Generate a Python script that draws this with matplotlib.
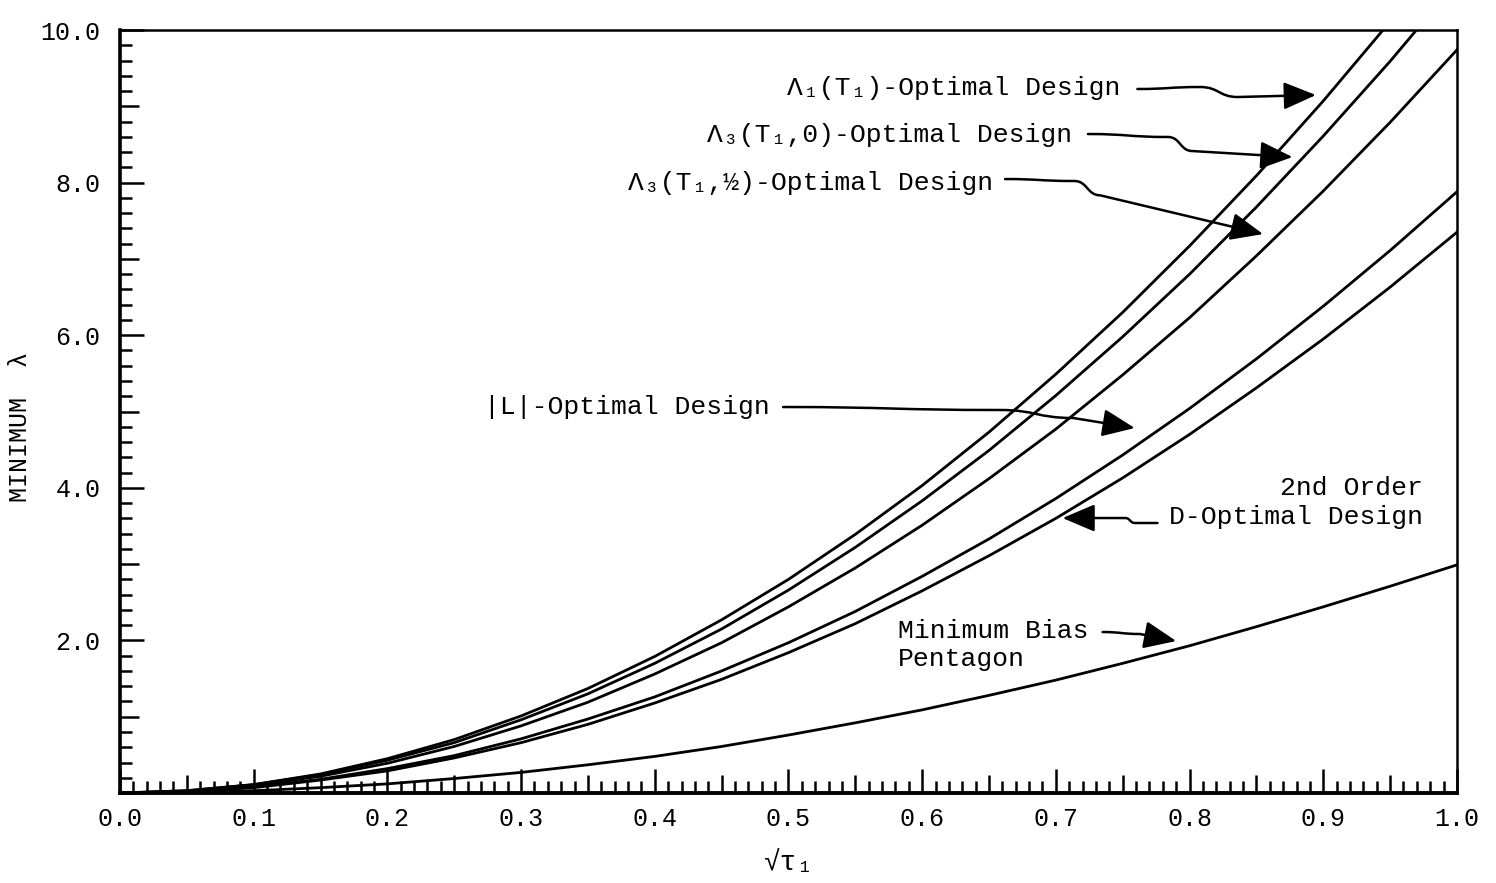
import matplotlib
matplotlib.use('Agg')
import matplotlib.pyplot as plt
from matplotlib.path import Path
from matplotlib.patches import FancyArrowPatch
from matplotlib.ticker import MultipleLocator, FixedLocator

plt.rcParams['font.family'] = ['Liberation Mono', 'DejaVu Sans Mono']

# values (sqrt(tau_1) vs minimum lambda)
sqrt_t1 = [0.0, 0.05, 0.1, 0.15, 0.2, 0.25, 0.3, 0.35, 0.4, 0.45, 0.5,
           0.55, 0.6, 0.65, 0.7, 0.75, 0.8, 0.85, 0.9, 0.95, 1.0]
lam1_opt = [0, 0.03, 0.11, 0.25, 0.45, 0.70, 1.01, 1.37, 1.79, 2.27, 2.80,
            3.39, 4.03, 4.73, 5.49, 6.30, 7.17, 8.09, 9.07, 10.11, 11.2]
lam3_0_opt = [0, 0.03, 0.11, 0.24, 0.43, 0.66, 0.96, 1.30, 1.70, 2.15, 2.66,
              3.22, 3.83, 4.49, 5.21, 5.98, 6.80, 7.68, 8.61, 9.59, 10.63]
lam3_half_opt = [0, 0.02, 0.10, 0.22, 0.39, 0.61, 0.88, 1.19, 1.56, 1.97, 2.44,
                 2.95, 3.51, 4.12, 4.77, 5.48, 6.23, 7.04, 7.89, 8.79, 9.74]
l_opt = [0, 0.02, 0.08, 0.18, 0.32, 0.49, 0.71, 0.97, 1.26, 1.60, 1.97,
         2.38, 2.84, 3.33, 3.86, 4.43, 5.04, 5.69, 6.38, 7.11, 7.88]
d_opt = [0, 0.02, 0.07, 0.17, 0.29, 0.46, 0.66, 0.90, 1.18, 1.49, 1.84,
         2.22, 2.65, 3.11, 3.60, 4.13, 4.70, 5.31, 5.95, 6.63, 7.35]
min_bias = [0, 0.01, 0.03, 0.07, 0.12, 0.19, 0.27, 0.37, 0.48, 0.61, 0.76,
            0.92, 1.09, 1.28, 1.48, 1.70, 1.93, 2.18, 2.44, 2.71, 2.99]

x_ticks = [0.0, 0.1, 0.2, 0.3, 0.4, 0.5, 0.6, 0.7, 0.8, 0.9, 1.0]
y_ticks = [2.0, 4.0, 6.0, 8.0, 10.0]

fig = plt.figure(figsize=(14.96, 8.83), dpi=100)
ax = fig.add_axes([0.0802, 0.1019, 0.8937, 0.8641])

for ys in [lam1_opt, lam3_0_opt, lam3_half_opt, l_opt, d_opt, min_bias]:
    ax.plot(sqrt_t1, ys, color='black', lw=2.0, solid_joinstyle='round')

ax.set_xlim(0, 1)
ax.set_ylim(0, 10)

# spines
ax.spines['left'].set_linewidth(2.6)
ax.spines['bottom'].set_linewidth(2.8)
ax.spines['top'].set_linewidth(1.8)
ax.spines['right'].set_linewidth(1.8)

# ticks, pointing inward
ax.xaxis.set_major_locator(FixedLocator(x_ticks))
ax.xaxis.set_minor_locator(MultipleLocator(0.01))
ax.yaxis.set_major_locator(FixedLocator(y_ticks))
ax.yaxis.set_minor_locator(MultipleLocator(0.2))
ax.set_xticklabels(['%.1f' % v for v in x_ticks])
ax.set_yticklabels(['%.1f' % v for v in y_ticks])
ax.tick_params(which='both', direction='in', top=False, right=False, width=1.8)
ax.tick_params(which='major', length=17, labelsize=18)
ax.tick_params(axis='x', which='major', pad=10)
ax.tick_params(axis='y', which='major', pad=14)
ax.tick_params(which='minor', length=8.5)

# medium ticks at 0.05 (x) and odd integers (y)
fig.canvas.draw()
for loc, t in zip(ax.xaxis.get_minorticklocs(), ax.xaxis.get_minor_ticks()):
    if abs(loc * 20 - round(loc * 20)) < 1e-6:
        t.tick1line.set_markersize(13)
for loc, t in zip(ax.yaxis.get_minorticklocs(), ax.yaxis.get_minor_ticks()):
    if abs(loc - round(loc)) < 1e-6:
        t.tick1line.set_markersize(14)

ax.set_xlabel('√τ₁', fontsize=20, labelpad=14)
ax.set_ylabel('MINIMUM  λ', fontsize=18)
ax.yaxis.set_label_coords(-0.066, 0.48)


def wiggle_arrow(pts):
    verts = [pts[0]]
    codes = [Path.MOVETO]
    for (x0, y0), (x1, y1) in zip(pts[:-2], pts[1:-1]):
        dx = (x1 - x0) / 2
        verts += [(x0 + dx, y0), (x1 - dx, y1), (x1, y1)]
        codes += [Path.CURVE4] * 3
    verts.append(pts[-1])
    codes.append(Path.LINETO)
    arr = FancyArrowPatch(path=Path(verts, codes),
                          arrowstyle='-|>,head_length=20,head_width=8.5',
                          mutation_scale=1, lw=1.8, color='black',
                          transform=ax.transData)
    ax.add_patch(arr)


fs = 19
ax.text(0.748, 9.24, 'Λ₁(T₁)-Optimal Design', ha='right', va='center', fontsize=fs)
wiggle_arrow([(0.761, 9.227), (0.808, 9.253), (0.836, 9.122), (0.8945, 9.148)])

ax.text(0.712, 8.62, 'Λ₃(T₁,0)-Optimal Design', ha='right', va='center', fontsize=fs)
wiggle_arrow([(0.724, 8.637), (0.784, 8.598), (0.802, 8.414), (0.877, 8.335)])

ax.text(0.653, 7.99, 'Λ₃(T₁,½)-Optimal Design', ha='right', va='center', fontsize=fs)
wiggle_arrow([(0.662, 8.047), (0.714, 8.021), (0.733, 7.834), (0.855, 7.326)])

ax.text(0.486, 5.06, '|L|-Optimal Design', ha='right', va='center', fontsize=fs)
wiggle_arrow([(0.496, 5.059), (0.658, 5.020), (0.713, 4.915), (0.759, 4.784)])

ax.text(0.9746, 3.81, '2nd Order\nD-Optimal Design', ha='right', va='center',
        multialignment='right', fontsize=fs, linespacing=1.25)
wiggle_arrow([(0.776, 3.539), (0.759, 3.539), (0.752, 3.604), (0.705, 3.604)])

ax.text(0.582, 1.94, 'Minimum Bias\nPentagon', ha='left', va='center',
        multialignment='left', fontsize=fs, linespacing=1.2)
wiggle_arrow([(0.735, 2.110), (0.763, 2.084), (0.790, 1.992)])

fig.savefig('out.png', dpi=100)
